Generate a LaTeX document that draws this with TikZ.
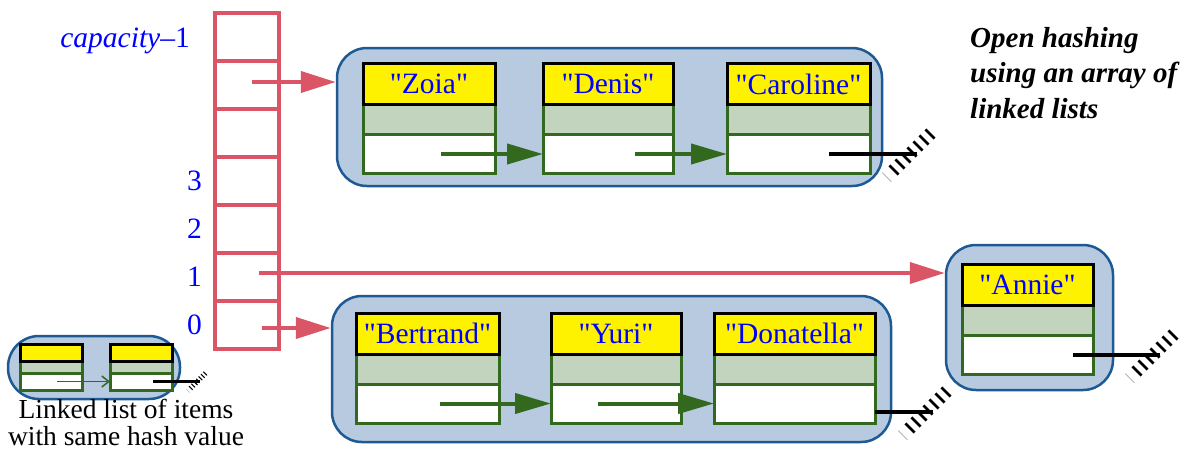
\documentclass[tikz,border=0pt]{standalone}
\usepackage{fontspec}
\setmainfont{Liberation Serif}
\usetikzlibrary{
  arrows.meta,
  backgrounds,
  fit,
  positioning
}
\definecolor{hashRed}{HTML}{DA5566}
\definecolor{hashBlue}{HTML}{0000FF}
\definecolor{listFill}{HTML}{B7CADF}
\definecolor{listEdge}{HTML}{1D5A94}
\definecolor{cellGreen}{HTML}{33691E}
\definecolor{keyFill}{HTML}{C2D4BE}
\tikzset{
  every node/.style={font=\fontsize{29.5}{35}\selectfont},
  idxlabel/.style={text=hashBlue, inner sep=0pt},
  slot/.style={
    draw=hashRed,
    line width=4pt,
    minimum width=64pt,
    minimum height=48pt,
    inner sep=0pt,
    outer sep=0pt
  },
  namebox/.style={
    draw=black,
    line width=3pt,
    fill=yellow,
    text=hashBlue,
    minimum height=41pt,
    inner sep=0pt,
    outer sep=0pt
  },
  keybox/.style={
    draw=cellGreen,
    line width=3pt,
    fill=keyFill,
    minimum height=30pt,
    inner sep=0pt,
    outer sep=0pt
  },
  ptrbox/.style={
    draw=cellGreen,
    line width=3pt,
    fill=white,
    minimum height=39pt,
    inner sep=0pt,
    outer sep=0pt
  },
  listgroup/.style={
    draw=listEdge,
    line width=2.5pt,
    fill=listFill,
    rounded corners=30pt,
    inner sep=0pt
  },
  hashlink/.style={
    -{Triangle[length=35pt,width=21pt]},
    line width=4pt,
    draw=hashRed
  },
  nextlink/.style={
    -{Triangle[length=36pt,width=20pt]},
    line width=4pt,
    draw=cellGreen
  },
  minilink/.style={
    -{Straight Barb[length=7pt,width=11pt]},
    line width=1.5pt,
    draw=cellGreen
  },
  nilline/.style={line width=4pt, draw=black},
  nilhatch/.style={draw=black}
}
% hatched end of a null pointer
\newcommand{\nilend}[2][1]{%
  \begin{scope}[shift={(#2)}, scale=#1]
    \foreach \k in {-3,...,3}
      \draw[nilhatch, line width={2.8pt*#1}] ({6*\k-9.6},{-6*\k-6.6}) -- ++(9.2,9.2);
    \draw[black!35, line width={0.8pt*#1}] ({-6*4.2-9.6},{6*4.2-6.6}) -- ++(9.2,9.2);
  \end{scope}}

\begin{document}
\begin{tikzpicture}[x=1pt,y=-1pt]
  \useasboundingbox (0,0) rectangle (1196,451);

  % the array of buckets
  \foreach \i in {0,...,6}
    \node[slot] (slot\i) at (247,{325-48*\i}) {};
  \foreach \i in {0,...,3}
    \node[idxlabel, anchor=east] (idx\i) at ([xshift=-13pt]slot\i.west) {\i};
  \node[idxlabel, anchor=base east] (idxcap) at (190,47) {\textit{capacity}--1};

  % list items
  \foreach \id/\txt/\x/\y/\w in {
    zoia/Zoia/429/119.5/132,
    denis/Denis/608/119.5/130,
    caroline/Caroline/798.5/119.5/143,
    bertrand/Bertrand/427.5/369/143,
    yuri/Yuri/616/369/130,
    donatella/Donatella/794.5/369/161,
    annie/Annie/1027.5/320.5/131
  }{
    \node[keybox, minimum width=\w pt] (\id-key) at (\x,\y) {};
    \node[namebox, minimum width=\w pt, above=0pt of \id-key] (\id) {\textquotedbl\txt\textquotedbl};
    \node[ptrbox, minimum width=\w pt, below=0pt of \id-key] (\id-ptr) {};
  }

  % legend items
  \foreach \id/\x in {mini1/51, mini2/141}{
    \node[keybox, minimum width=62pt, minimum height=12pt] (\id-key) at (\x,367) {};
    \node[namebox, minimum width=62pt, minimum height=17pt, above=0pt of \id-key] (\id) {};
    \node[ptrbox, minimum width=62pt, minimum height=17pt, below=0pt of \id-key] (\id-ptr) {};
  }

  \begin{scope}[on background layer]
    \node[listgroup, fit={([xshift=-26pt,yshift=15.5pt]zoia.north west)
      ([xshift=12pt,yshift=-12.5pt]caroline-ptr.south east)}] (toplist) {};
    \node[listgroup, fit={([xshift=-24pt,yshift=17pt]bertrand.north west)
      ([xshift=16pt,yshift=-19pt]donatella-ptr.south east)}] (botlist) {};
    \node[listgroup, fit={([xshift=-16pt,yshift=19.5pt]annie.north west)
      ([xshift=20pt,yshift=-15.5pt]annie-ptr.south east)}] (annielist) {};
    \node[listgroup, rounded corners=31pt, fit={([xshift=-12pt,yshift=8pt]mini1.north west)
      ([xshift=8pt,yshift=-9pt]mini2-ptr.south east)}] (legend) {};
  \end{scope}

  % bucket pointers
  \draw[hashlink] ([xshift=5pt,yshift=3pt]slot5.center) coordinate (from5) -- (from5 -| toplist.west);
  \draw[hashlink] ([xshift=12pt,yshift=4pt]slot1.center) coordinate (from1) -- (from1 -| annielist.west);
  \draw[hashlink] ([xshift=15pt,yshift=-3pt]slot0.center) coordinate (from0) -- (from0 -| botlist.west);

  % next pointers
  \draw[nextlink] ([xshift=12pt]zoia-ptr.center) -- (denis-ptr.west);
  \draw[nextlink] ([xshift=27pt]denis-ptr.center) -- (caroline-ptr.west);
  \draw[nextlink] ([xshift=12.5pt]bertrand-ptr.center) -- (yuri-ptr.west);
  \draw[nextlink] ([xshift=-18pt]yuri-ptr.center) -- (donatella-ptr.west);
  \draw[minilink] ([xshift=6pt]mini1-ptr.center) -- (mini2-ptr.west);

  % null pointers
  \draw[nilline] ([xshift=30.5pt]caroline-ptr.center) -- ++(88,0) coordinate (caroline-nil);
  \draw[nilline] ([yshift=-8.5pt]donatella-ptr.east) -- ++(58,0) coordinate (donatella-nil);
  \draw[nilline] ([xshift=45.5pt]annie-ptr.center) -- ++(87,0) coordinate (annie-nil);
  \draw[nilline, line width=2.5pt] ([xshift=12pt]mini2-ptr.center) -- ++(47,0) coordinate (mini2-nil);
  \nilend{caroline-nil}
  \nilend{donatella-nil}
  \nilend{annie-nil}
  \nilend[0.4]{mini2-nil}

  \node[font=\fontsize{27.5}{27}\selectfont, align=center, inner sep=0pt, anchor=north]
    (legendtext) at (126,399) {Linked list of items\\with same hash value};
  \node[font=\fontsize{29}{35.5}\selectfont\bfseries\itshape, align=left, inner sep=0pt,
    anchor=north west] (title) at (970,27) {Open hashing\\using an array of\\linked lists};
\end{tikzpicture}
\end{document}
